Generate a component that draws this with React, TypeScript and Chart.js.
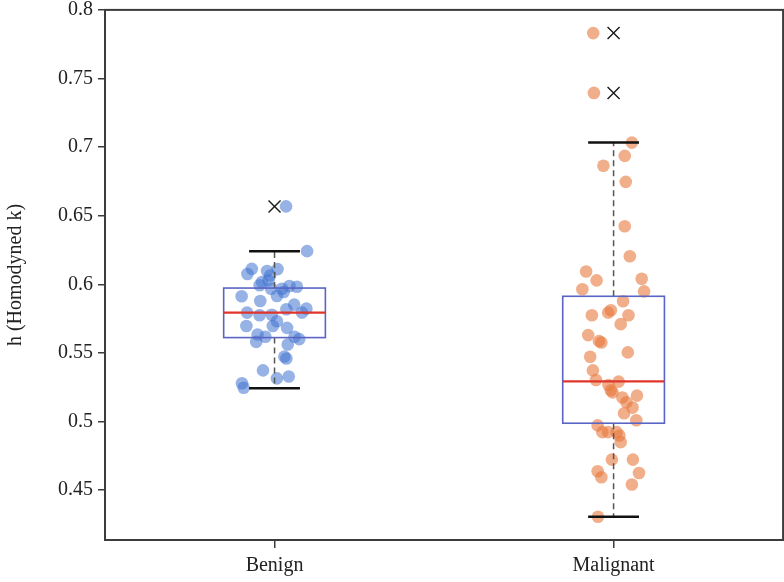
import React, { useEffect, useRef } from "react";
import { Chart, registerables } from "chart.js";

Chart.register(...registerables);

const CATEGORIES = ["Benign", "Malignant"];

const BENIGN_VALUES = [
  0.6568, 0.6242, 0.6113, 0.6075, 0.6097, 0.6111, 0.6065, 0.6029, 0.6017, 0.5993,
  0.5968, 0.5968, 0.5988, 0.5983, 0.5944, 0.5915, 0.5913, 0.5879, 0.5852, 0.5819,
  0.5794, 0.5775, 0.5779, 0.5823, 0.5794, 0.5697, 0.5731, 0.5697, 0.5683, 0.5634,
  0.5618, 0.5581, 0.5618, 0.5601, 0.5562, 0.5460, 0.5373, 0.5315, 0.5329, 0.5279,
  0.5247, 0.5473,
];
const BENIGN_JITTER = [
  0.034, 0.096, -0.067, -0.080, -0.022, 0.009, -0.013, -0.018, -0.037, -0.044,
  -0.010, 0.022, 0.044, 0.066, 0.027, 0.007, -0.097, -0.042, 0.058, 0.035,
  -0.081, -0.044, -0.008, 0.094, 0.081, -0.083, 0.007, -0.005, 0.037, -0.050,
  -0.027, -0.054, 0.059, 0.073, 0.039, 0.035, -0.034, 0.007, 0.042, -0.096,
  -0.091, 0.029,
];

const MALIGNANT_VALUES = [
  0.7831, 0.7395, 0.7033, 0.6936, 0.6864, 0.6747, 0.6423, 0.6205, 0.6094, 0.6029,
  0.6041, 0.5964, 0.5949, 0.5877, 0.5811, 0.5794, 0.5775, 0.5775, 0.5710, 0.5630,
  0.5586, 0.5576, 0.5504, 0.5472, 0.5373, 0.5303, 0.5267, 0.5291, 0.5228, 0.5213,
  0.5175, 0.5189, 0.5141, 0.5102, 0.5061, 0.5010, 0.4972, 0.4923, 0.4923, 0.4923,
  0.4899, 0.4850, 0.4723, 0.4723, 0.4638, 0.4594, 0.4625, 0.4541, 0.4306,
];
const MALIGNANT_JITTER = [
  -0.060, -0.058, 0.054, 0.033, -0.030, 0.036, 0.033, 0.048, -0.081, -0.050,
  0.083, -0.092, 0.090, 0.028, -0.008, -0.016, -0.064, 0.044, 0.021, -0.075,
  -0.043, -0.036, 0.042, -0.069, -0.061, -0.052, -0.015, 0.015, -0.008, -0.003,
  0.026, 0.069, 0.038, 0.056, 0.031, 0.067, -0.047, -0.033, -0.016, 0.009,
  0.017, 0.021, -0.005, 0.057, -0.047, -0.036, 0.075, 0.054, -0.046,
];

const BOX_Q1 = [0.5612, 0.4988];
const BOX_MEDIAN = [0.5794, 0.5293];
const BOX_Q3 = [0.5973, 0.5913];
const WHISKER_LOW = [0.5242, 0.4306];
const WHISKER_HIGH = [0.6242, 0.7033];
const OUTLIERS_BENIGN = [0.6568];
const OUTLIERS_MALIGNANT = [0.7831, 0.7395];

const Y_TICKS = [0.45, 0.5, 0.55, 0.6, 0.65, 0.7, 0.75, 0.8];
const Y_MIN = 0.4137;
const Y_MAX = 0.8;

const FONT = "'Liberation Serif', 'Times New Roman', serif";
const AXIS_COLOR = "#3c3c3c";
const CANVAS_W = 793;

const boxPlugin = {
  id: "boxPlugin",
  afterDatasetsDraw(chart: any) {
    const { ctx, scales } = chart;
    const x = scales.x;
    const y = scales.y;
    ctx.save();
    for (let i = 0; i < CATEGORIES.length; i++) {
      const c = i + 1;
      const xl = x.getPixelForValue(c - 0.15);
      const xr = x.getPixelForValue(c + 0.15);
      const xc = x.getPixelForValue(c);
      const cl = x.getPixelForValue(c - 0.075);
      const cr = x.getPixelForValue(c + 0.075);
      const yq1 = y.getPixelForValue(BOX_Q1[i]);
      const yq3 = y.getPixelForValue(BOX_Q3[i]);
      const ym = y.getPixelForValue(BOX_MEDIAN[i]);
      const ylo = y.getPixelForValue(WHISKER_LOW[i]);
      const yhi = y.getPixelForValue(WHISKER_HIGH[i]);
      ctx.strokeStyle = "#555555";
      ctx.lineWidth = 1.5;
      ctx.setLineDash([6, 4]);
      ctx.beginPath();
      ctx.moveTo(xc, yq3);
      ctx.lineTo(xc, yhi);
      ctx.moveTo(xc, yq1);
      ctx.lineTo(xc, ylo);
      ctx.stroke();
      ctx.setLineDash([]);
      ctx.strokeStyle = "#111111";
      ctx.lineWidth = 2.5;
      ctx.beginPath();
      ctx.moveTo(cl, yhi);
      ctx.lineTo(cr, yhi);
      ctx.moveTo(cl, ylo);
      ctx.lineTo(cr, ylo);
      ctx.stroke();
      ctx.strokeStyle = "#5a64c4";
      ctx.lineWidth = 1.6;
      ctx.strokeRect(xl, yq3, xr - xl, yq1 - yq3);
      ctx.strokeStyle = "#e0352b";
      ctx.lineWidth = 2.2;
      ctx.beginPath();
      ctx.moveTo(xl, ym);
      ctx.lineTo(xr, ym);
      ctx.stroke();
    }
    ctx.restore();
  },
  afterDraw(chart: any) {
    const { ctx, chartArea } = chart;
    ctx.save();
    ctx.strokeStyle = AXIS_COLOR;
    ctx.lineWidth = 2;
    ctx.strokeRect(chartArea.left, chartArea.top, chartArea.right - chartArea.left, chartArea.bottom - chartArea.top);
    ctx.restore();
  },
};

function zeroPadding(scale: any) {
  scale.paddingTop = 0;
  scale.paddingBottom = 0;
  scale.paddingLeft = 0;
  scale.paddingRight = 0;
}

export default function App() {
  const ref = useRef<HTMLCanvasElement | null>(null);
  useEffect(() => {
    if (!ref.current) return;
    const benign = BENIGN_VALUES.map((v, i) => ({ x: 1 + BENIGN_JITTER[i], y: v }));
    const malignant = MALIGNANT_VALUES.map((v, i) => ({ x: 2 + MALIGNANT_JITTER[i], y: v }));
    const outliers = [
      ...OUTLIERS_BENIGN.map((v) => ({ x: 1, y: v })),
      ...OUTLIERS_MALIGNANT.map((v) => ({ x: 2, y: v })),
    ];
    const chart = new Chart(ref.current, {
      type: "scatter",
      data: {
        datasets: [
          {
            data: benign,
            backgroundColor: "rgba(66,114,207,0.55)",
            borderWidth: 0,
            pointRadius: 6.3,
            pointHoverRadius: 6.3,
          },
          {
            data: malignant,
            backgroundColor: "rgba(232,120,60,0.6)",
            borderWidth: 0,
            pointRadius: 6.3,
            pointHoverRadius: 6.3,
          },
          {
            data: outliers,
            pointStyle: "crossRot",
            borderColor: "#1a1a1a",
            backgroundColor: "#1a1a1a",
            borderWidth: 1.4,
            pointRadius: 8.5,
            pointHoverRadius: 8.5,
          },
        ],
      },
      options: {
        responsive: false,
        animation: false,
        devicePixelRatio: 1,
        plugins: { legend: { display: false }, tooltip: { enabled: false } },
        layout: { padding: { top: 6, right: 2, left: 0, bottom: 0 } },
        scales: {
          x: {
            type: "linear",
            min: 0.5,
            max: 2.5,
            afterBuildTicks(scale: any) {
              scale.ticks = CATEGORIES.map((_, i) => ({ value: i + 1 }));
            },
            afterFit(scale: any) {
              scale.height = 42;
              zeroPadding(scale);
            },
            border: { display: false },
            grid: { drawOnChartArea: false, drawTicks: true, tickLength: 8, color: AXIS_COLOR, lineWidth: 1.5 },
            ticks: {
              padding: 6,
              color: "#222",
              font: { family: FONT, size: 20 },
              callback: (v: any) => CATEGORIES[Math.round(Number(v)) - 1] ?? "",
            },
          },
          y: {
            type: "linear",
            min: Y_MIN,
            max: Y_MAX,
            afterBuildTicks(scale: any) {
              scale.ticks = Y_TICKS.map((v) => ({ value: v }));
            },
            afterFit(scale: any) {
              scale.width = 105;
              zeroPadding(scale);
            },
            border: { display: false },
            grid: { drawOnChartArea: false, drawTicks: true, tickLength: 7, color: AXIS_COLOR, lineWidth: 1.5 },
            ticks: {
              padding: 5,
              color: "#222",
              font: { family: FONT, size: 20 },
              callback: (v: any) => String(v),
            },
            title: {
              display: true,
              text: "h (Homodyned k)",
              color: "#222",
              font: { family: FONT, size: 20 },
              padding: { top: 4, bottom: 4 },
            },
          },
        },
      },
      plugins: [boxPlugin],
    });
    return () => chart.destroy();
  }, []);
  return (
    <div style={{ position: "fixed", left: 0, top: 0, width: 784, height: 582, background: "#fff", overflow: "hidden" }}>
      <canvas ref={ref} width={CANVAS_W} height={582} style={{ width: CANVAS_W, height: 582, display: "block" }} />
    </div>
  );
}
